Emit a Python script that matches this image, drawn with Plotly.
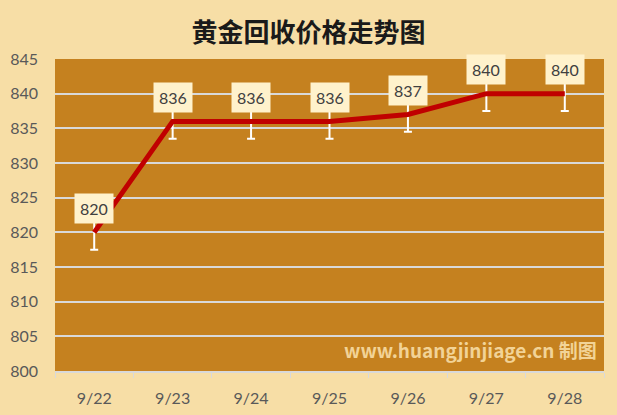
import plotly.graph_objects as go

dates = ['9/22', '9/23', '9/24', '9/25', '9/26', '9/27', '9/28']
prices = [820, 836, 836, 836, 837, 840, 840]
err = [2.5, 2.5, 2.5, 2.5, 2.5, 2.5, 2.5]
y_ticks = [800, 805, 810, 815, 820, 825, 830, 835, 840, 845]

fig = go.Figure()

fig.add_trace(go.Scatter(
    x=dates, y=prices, mode='lines',
    line=dict(color='#C00000', width=5),
    error_y=dict(type='data', array=err, visible=True,
                 color='white', thickness=2, width=4),
    showlegend=False, hoverinfo='x+y'))

# data labels in light yellow boxes
for d, p in zip(dates, prices):
    fig.add_annotation(x=d, y=p, text=str(p), showarrow=False,
                       yshift=24, bgcolor='#FFF2CC', borderpad=5,
                       font=dict(family='Lato', size=16, color='#404040'))

fig.add_annotation(xref='paper', yref='paper', x=0.99, y=0.02,
                   xanchor='right', yanchor='bottom', showarrow=False,
                   text='<b>www.huangjinjiage.cn 制图</b>',
                   font=dict(family='Noto Sans CJK SC', size=19, color='rgba(255,234,185,0.78)'))

fig.update_layout(
    width=617, height=415,
    margin=dict(l=55, r=13, t=59, b=44, autoexpand=False),
    paper_bgcolor='#F7DEA6',
    plot_bgcolor='#C5811F',
    title=dict(text='<b>黄金回收价格走势图</b>', x=0.5, xanchor='center', y=0.92, yanchor='middle',
               font=dict(family='Noto Sans CJK SC', size=26, color='#1a1a1a')),
    xaxis=dict(type='category', range=[-0.5, 6.5], tickson='boundaries', ticks='outside', ticklen=5,
               tickcolor='#D9D9D9', showline=True, linecolor='#D9D9D9', linewidth=2,
               showgrid=False, ticklabelstandoff=12, automargin=False,
               tickfont=dict(family='Lato', size=16, color='#595959')),
    yaxis=dict(range=[800, 845], tickvals=y_ticks, showgrid=True, gridcolor='#D9D9D9',
               gridwidth=1.5, zeroline=False, ticks='', ticklabelstandoff=16, automargin=False,
               tickfont=dict(family='Lato', size=16, color='#595959')),
)

fig.write_html("out.html", config={'displayModeBar': False},
               post_script="document.body.style.margin='0';")
